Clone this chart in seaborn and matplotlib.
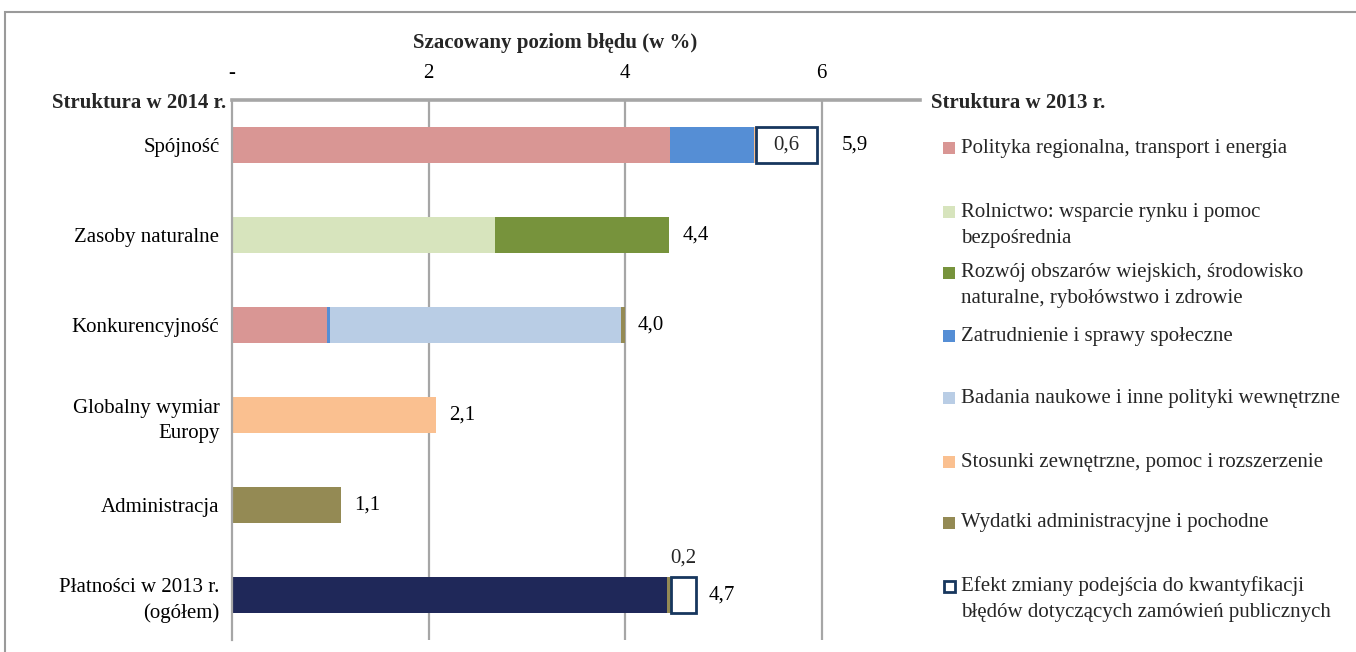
import numpy as np
import pandas as pd
import matplotlib
matplotlib.use("Agg")
import matplotlib.pyplot as plt
from matplotlib.patches import Rectangle
import seaborn as sns

# ---------------- data ----------------
categories = ["Spójność", "Zasoby naturalne", "Konkurencyjność",
              "Globalny wymiar\nEuropy", "Administracja",
              "Płatności w 2013 r.\n(ogółem)"]

seg_total2013 = [0, 0, 0, 0, 0, 4.43]          # Płatności w 2013 r. (ogółem)
seg_regional = [4.46, 0, 0.97, 0, 0, 0]         # Polityka regionalna...
seg_agri = [0, 2.68, 0, 0, 0, 0]                # Rolnictwo
seg_rural = [0, 1.77, 0, 0, 0, 0]               # Rozwój obszarów wiejskich
seg_employ = [0.85, 0, 0.03, 0, 0, 0]           # Zatrudnienie
seg_research = [0, 0, 2.96, 0, 0, 0]            # Badania naukowe
seg_external = [0.02, 0, 0, 2.08, 0, 0]         # Stosunki zewnętrzne
seg_admin = [0, 0, 0.04, 0, 1.11, 0.04]         # Wydatki administracyjne
seg_effect = [0.62, 0, 0, 0, 0, 0.25]           # Efekt zmiany podejścia

total_labels = ["5,9", "4,4", "4,0", "2,1", "1,1", "4,7"]
effect_labels = ["0,6", "", "", "", "", "0,2"]

legend_labels = [
    "Polityka regionalna, transport i energia",
    "Rolnictwo: wsparcie rynku i pomoc\nbezpośrednia",
    "Rozwój obszarów wiejskich, środowisko\nnaturalne, rybołówstwo i zdrowie",
    "Zatrudnienie i sprawy społeczne",
    "Badania naukowe i inne polityki wewnętrzne",
    "Stosunki zewnętrzne, pomoc i rozszerzenie",
    "Wydatki administracyjne i pochodne",
    "Efekt zmiany podejścia do kwantyfikacji\nbłędów dotyczących zamówień publicznych",
]

x_ticks = [0, 2, 4, 6]
x_ticklabels = ["-", "2", "4", "6"]

# ---------------- style ----------------
C_NAVY = "#1F2859"
C_REG = "#D99694"
C_AGRI = "#D7E4BD"
C_RURAL = "#77933C"
C_EMP = "#558ED5"
C_RES = "#B9CDE5"
C_EXT = "#FAC090"
C_ADM = "#948A54"
C_BOX = "#17375E"
GRID = "#A6A6A6"

sns.set_theme(style="white")
plt.rcParams["font.family"] = ["Liberation Serif", "DejaVu Serif"]
FS = 15

W, H = 1356, 652
fig = plt.figure(figsize=(W / 100, H / 100), dpi=100)
ax = fig.add_axes([232 / W, 12 / H, 688 / W, 540 / H])

series = [
    (seg_total2013, C_NAVY, True),
    (seg_regional, C_REG, True),
    (seg_agri, C_AGRI, True),
    (seg_rural, C_RURAL, True),
    (seg_employ, C_EMP, True),
    (seg_research, C_RES, True),
    (seg_external, C_EXT, True),
    (seg_admin, C_ADM, True),
    (seg_effect, C_BOX, False),
]

cum = np.zeros(len(categories))
effect_left = np.zeros(len(categories))
for vals, col, fill in series:
    vals = np.asarray(vals, dtype=float)
    mask = vals > 0
    df = pd.DataFrame({"cat": np.array(categories)[mask], "val": vals[mask]})
    if not fill:
        effect_left = cum.copy()
        sns.barplot(data=df, x="val", y="cat", order=categories, orient="y",
                    left=cum[mask], color=C_BOX, fill=False, linewidth=2,
                    width=0.4, errorbar=None, ax=ax)
    else:
        sns.barplot(data=df, x="val", y="cat", order=categories, orient="y",
                    left=cum[mask], color=col, saturation=1, linewidth=0,
                    width=0.4, errorbar=None, ax=ax)
    cum = cum + vals

# value labels
for i, lab in enumerate(total_labels):
    off = 0.25 if effect_labels[i] and i == 0 else 0.13
    ax.text(cum[i] + off, i, lab, ha="left", va="center", fontsize=FS, color="black")
for i, lab in enumerate(effect_labels):
    if not lab:
        continue
    w = seg_effect[i]
    if w > 0.4:
        ax.text(effect_left[i] + w / 2, i, lab, ha="center", va="center", fontsize=FS)
    else:
        ax.text(effect_left[i] + w / 2, i - 0.3, lab, ha="center", va="bottom", fontsize=FS)

# axes styling
ax.set_xlim(0, 7)
ax.set_ylim(5.5, -0.5)
ax.xaxis.tick_top()
ax.set_xticks(x_ticks)
ax.set_xticklabels(x_ticklabels, fontsize=FS)
ax.tick_params(axis="x", length=0, pad=12, colors="black")
ax.tick_params(axis="y", length=0, pad=9, labelsize=FS, colors="black")
for t in ax.get_yticklabels():
    t.set_multialignment("right")
    t.set_linespacing(1.45)
ax.set_xlabel("")
ax.set_ylabel("")
for x in x_ticks[1:]:
    ax.axvline(x, color=GRID, lw=1.6, zorder=0)
for s in ["right", "bottom"]:
    ax.spines[s].set_visible(False)
ax.spines["top"].set_color(GRID)
ax.spines["top"].set_linewidth(2.6)
ax.spines["left"].set_color(GRID)
ax.spines["left"].set_linewidth(1.6)
ax.set_axisbelow(True)

# titles
fig.text(555 / W, 1 - 43 / H, "Szacowany poziom błędu (w %)", ha="center", va="center",
         fontsize=FS, fontweight="bold")
fig.text(226 / W, 1 - 103 / H, "Struktura w 2014 r.", ha="right", va="center",
         fontsize=FS, fontweight="bold")
fig.text(931 / W, 1 - 103 / H, "Struktura w 2013 r.", ha="left", va="center",
         fontsize=FS, fontweight="bold")

# legend (manual)
leg_colors = [C_REG, C_AGRI, C_RURAL, C_EMP, C_RES, C_EXT, C_ADM, None]
leg_y = [148, 212, 273, 336, 398, 462, 523, 586]
for lab, col, yc in zip(legend_labels, leg_colors, leg_y):
    if col is None:
        fig.add_artist(Rectangle((944 / W, 1 - (yc + 6) / H), 11 / W, 11 / H,
                                 transform=fig.transFigure, facecolor="white",
                                 edgecolor=C_BOX, lw=2))
    else:
        fig.add_artist(Rectangle((943 / W, 1 - (yc + 6) / H), 12 / W, 12 / H,
                                 transform=fig.transFigure, facecolor=col,
                                 edgecolor="none"))
    for j, line in enumerate(lab.split("\n")):
        fig.text(961 / W, 1 - (yc + j * 26) / H, line, ha="left", va="center",
                 fontsize=FS)

# outer frame
fig.add_artist(Rectangle((5 / W, -0.2), 1.2, 1.2 - 12 / H, transform=fig.transFigure,
                         fill=False, edgecolor="#9A9A9A", lw=1.5, clip_on=False))

fig.savefig("out.png", dpi=100)
